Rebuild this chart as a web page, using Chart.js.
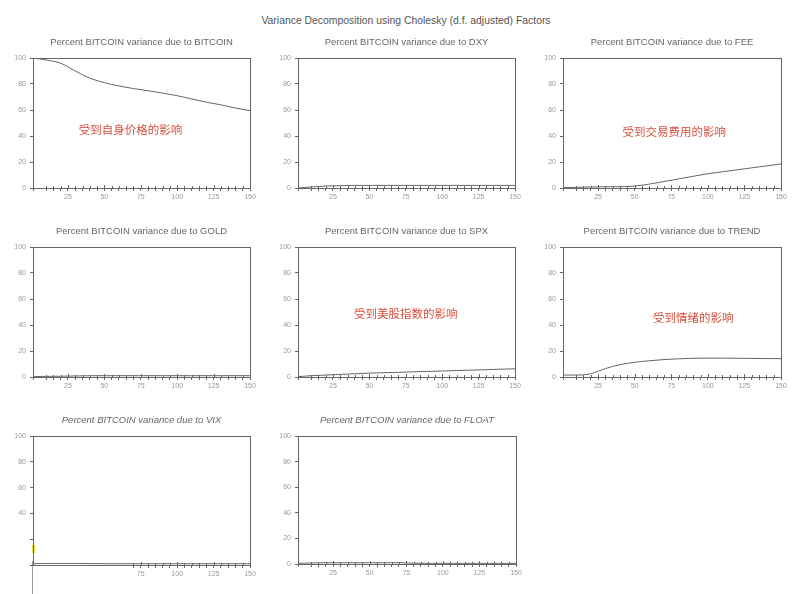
<!DOCTYPE html>
<html>
<head>
<meta charset="utf-8">
<script src="https://cdn.jsdelivr.net/npm/chart.js@4.4.0/dist/chart.umd.min.js"></script>
<style>
  body { margin: 0; background: #fff; }
  #page { position: relative; width: 797px; height: 594px; overflow: hidden; background: #fff; }
  #mainTitle {
    position: absolute; left: 0; width: 812px; top: 15px; text-align: center;
    font: 10.4px "Liberation Sans", Arial, sans-serif; color: #555;
  }
  canvas { position: absolute; }
  .scar { position: absolute; }
</style>
</head>
<body>
<div id="page">
  <div id="mainTitle">Variance Decomposition using Cholesky (d.f. adjusted) Factors</div>
  <div class="scar" style="left:32px; top:561px; width:1px; height:33px; background:#999"></div>
  <div class="scar" style="left:32px; top:545px; width:3px; height:8px; background:#e8e040"></div>
</div>
<script>
// horizon (periods) and the share of BITCOIN variance
const periods      = [1, 10, 20, 30, 40, 50, 60, 70, 80, 90, 100, 110, 120, 130, 140, 150];
const bitcoinShare = [100, 98.5, 96, 90, 84.5, 81, 78.5, 76.5, 74.8, 73, 71, 68.5, 66, 64, 61.5, 59.5];
const dxyShare     = [0, 0.8, 1.5, 1.8, 2, 2, 2, 2, 2, 2, 2, 2, 2, 2, 2, 2];
const feeShare     = [0.3, 0.5, 0.8, 1, 1, 1.5, 3, 5, 7, 9, 11, 12.5, 14, 15.5, 17, 18.5];
const goldShare    = [0.3, 0.5, 0.6, 0.8, 1, 1, 1, 1, 1, 1, 1, 1, 1, 1, 1, 1];
const spxShare     = [0.3, 1, 1.5, 2, 2.5, 3, 3.3, 3.6, 4, 4.3, 4.6, 5, 5.3, 5.6, 6, 6.3];
const trendShare   = [1.5, 1.5, 2.5, 6.5, 9.5, 11.3, 12.5, 13.4, 14, 14.4, 14.5, 14.5, 14.4, 14.3, 14.2, 14.1];
const vixShare     = [1, 1.2, 1.2, 1.2, 1.1, 1, 1, 1, 1, 1, 1, 1, 1, 1, 1, 1];
const floatShare   = [0.5, 0.8, 1, 1, 1, 1, 1, 1, 0.6, 0.5, 0.5, 0.5, 0.5, 0.5, 0.5, 0.5];

const xTickLabels = [25, 50, 75, 100, 125, 150];
const yTickLabels = [0, 20, 40, 60, 80, 100];

const panels = [
  { title: 'Percent BITCOIN variance due to BITCOIN', data: bitcoinShare, box: [33, 58, 250, 188], note: '受到自身价格的影响', noteAt: [68, 45] },
  { title: 'Percent BITCOIN variance due to DXY',     data: dxyShare,     box: [298, 58, 515, 188] },
  { title: 'Percent BITCOIN variance due to FEE',     data: feeShare,     box: [563, 58, 781, 188], note: '受到交易费用的影响', noteAt: [77, 43] },
  { title: 'Percent BITCOIN variance due to GOLD',    data: goldShare,    box: [33, 247, 250, 377] },
  { title: 'Percent BITCOIN variance due to SPX',     data: spxShare,     box: [298, 247, 515, 377], note: '受到美股指数的影响', noteAt: [75, 49] },
  { title: 'Percent BITCOIN variance due to TREND',   data: trendShare,   box: [563, 247, 781, 377], note: '受到情绪的影响', noteAt: [90, 46] },
  { title: 'Percent BITCOIN variance due to VIX',     data: vixShare,     box: [33, 436, 250, 565], italic: true, hideX: [25, 50], hideY: [0, 20], ticksFrom: 70 },
  { title: 'Percent BITCOIN variance due to FLOAT',   data: floatShare,   box: [298, 436, 516, 564], italic: true }
];

const PAD_L = 24, PAD_T = 24, PAD_R = 10, PAD_B = 18;

// frame, inner x ticks, panel title and red note
const framePlugin = {
  id: 'frame',
  afterDraw(chart, args, o) {
    const { ctx, chartArea: a } = chart;
    const xs = chart.scales.x, ys = chart.scales.y;
    ctx.save();
    ctx.strokeStyle = '#666';
    ctx.lineWidth = 1;
    ctx.strokeRect(Math.round(a.left) + 0.5, Math.round(a.top) + 0.5, Math.round(a.right - a.left), Math.round(a.bottom - a.top));
    ctx.beginPath();
    xs.ticks.forEach(t => {
      if (o.ticksFrom && t.value < o.ticksFrom) return;
      const x = Math.round(xs.getPixelForValue(t.value)) + 0.5;
      const len = xTickLabels.includes(t.value) ? 3 : 2;
      ctx.moveTo(x, a.bottom);
      ctx.lineTo(x, a.bottom - len);
    });
    ctx.stroke();
    ctx.fillStyle = '#666';
    ctx.font = (o.italic ? 'italic ' : '') + '9.5px "Liberation Sans", Arial, sans-serif';
    ctx.textAlign = 'center';
    ctx.textBaseline = 'middle';
    ctx.fillText(o.title, (a.left + a.right) / 2, a.top - 16);
    if (o.note) {
      ctx.fillStyle = '#d9503c';
      ctx.font = '11.5px "Noto Sans CJK SC", sans-serif';
      ctx.fillText(o.note, xs.getPixelForValue(o.noteAt[0]), ys.getPixelForValue(o.noteAt[1]));
    }
    ctx.restore();
  }
};

const page = document.getElementById('page');

panels.forEach(p => {
  const [l, t, r, b] = p.box;
  const canvas = document.createElement('canvas');
  const w = (r - l) + PAD_L + PAD_R;
  const h = (b - t) + PAD_T + PAD_B;
  canvas.width = w; canvas.height = h;
  canvas.style.left = (l - PAD_L) + 'px';
  canvas.style.top = (t - PAD_T) + 'px';
  canvas.style.width = w + 'px';
  canvas.style.height = h + 'px';
  page.appendChild(canvas);

  const hideX = p.hideX || [], hideY = p.hideY || [];

  new Chart(canvas.getContext('2d'), {
    type: 'line',
    data: {
      datasets: [{
        data: periods.map((x, i) => ({ x: x, y: p.data[i] })),
        borderColor: '#666',
        borderWidth: 1,
        pointRadius: 0,
        cubicInterpolationMode: 'monotone',
        fill: false
      }]
    },
    options: {
      responsive: false,
      animation: false,
      devicePixelRatio: 1,
      layout: { autoPadding: false, padding: { top: PAD_T, right: PAD_R, left: 0, bottom: 0 } },
      plugins: {
        legend: { display: false },
        tooltip: { enabled: false },
        frame: { title: p.title, note: p.note, noteAt: p.noteAt, italic: p.italic, ticksFrom: p.ticksFrom }
      },
      scales: {
        x: {
          type: 'linear', min: 1, max: 150,
          afterFit: s => { s.height = PAD_B; },
          border: { color: '#666' },
          grid: {
            drawOnChartArea: false, tickLength: 3,
            color: c => (p.ticksFrom && c.tick && c.tick.value < p.ticksFrom) ? 'rgba(0,0,0,0)' : '#666'
          },
          ticks: {
            stepSize: 5, autoSkip: false, maxRotation: 0, padding: 2,
            color: '#999', font: { size: 7, family: '"Liberation Sans", Arial, sans-serif' },
            callback: v => (xTickLabels.includes(v) && !hideX.includes(v)) ? String(v) : ''
          }
        },
        y: {
          min: 0, max: 100,
          afterFit: s => { s.width = PAD_L; },
          border: { color: '#666' },
          grid: { drawOnChartArea: false, tickLength: 3, color: '#666' },
          ticks: {
            stepSize: 20, padding: 4,
            color: '#999', font: { size: 7, family: '"Liberation Sans", Arial, sans-serif' },
            callback: v => (yTickLabels.includes(v) && !hideY.includes(v)) ? String(v) : ''
          }
        }
      }
    },
    plugins: [framePlugin]
  });
});
</script>
</body>
</html>
